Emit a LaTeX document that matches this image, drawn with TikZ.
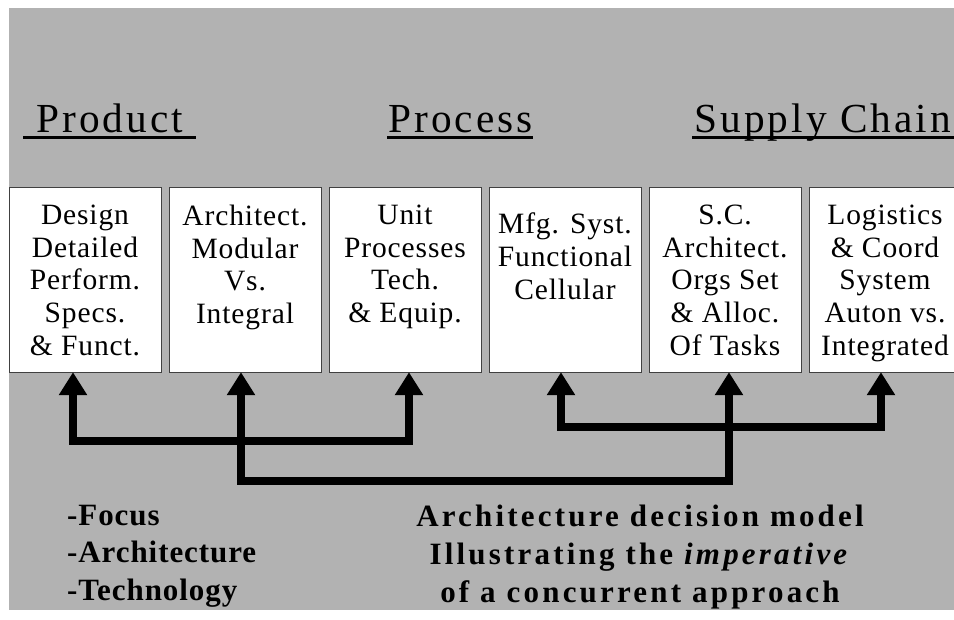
\documentclass[tikz,border=0pt]{standalone}
\usepackage{fontspec}
\usetikzlibrary{positioning,arrows.meta}
\setmainfont{Liberation Serif}
\newfontfamily\headfont[LetterSpace=7.5]{Liberation Serif}
\newfontfamily\cellfont[LetterSpace=3]{Liberation Serif}
\newfontfamily\leftfont[LetterSpace=3]{Liberation Serif}
\newfontfamily\notefont[LetterSpace=10.3]{Liberation Serif}
\definecolor{bggray}{RGB}{178,178,178}

\tikzset{
	cell/.style={draw=black!75, fill=white, minimum width=152pt, minimum height=185pt, inner sep=0pt},
	celltext/.style={font=\cellfont\fontsize{29.5pt}{32.7pt}\selectfont, align=center, inner sep=0pt, execute at begin node=\strut},
	heading/.style={font=\headfont\fontsize{41.3pt}{48pt}\selectfont, inner sep=0pt},
	uline/.style={line width=3pt},
	link/.style={line width=8pt, {Triangle[width=27pt,length=23pt]}-{Triangle[width=27pt,length=23pt]}},
	note/.style={font=\notefont\bfseries\fontsize{31pt}{38pt}\selectfont, inner sep=0pt, execute at begin node=\strut},
	leftnote/.style={note, font=\leftfont\bfseries\fontsize{31pt}{38pt}\selectfont},
}

\begin{document}
\begin{tikzpicture}[x=1pt,y=-1pt]
				\useasboundingbox (0,0) rectangle (954,620);
				\fill[bggray] (9,8) rectangle (970,610);
				% headings
				\node[heading, inner xsep=13pt, anchor=base west] (prod) at (23,133) {Product};
				\node[heading, anchor=base west] (proc) at (388,133) {Process};
				\node[heading, anchor=base west] (supp) at (694,133) {Supply Chain};
				\draw[uline] ([yshift=-4.5pt]prod.base west) -- ([yshift=-4.5pt]prod.base east);
				\draw[uline] ([yshift=-4.5pt,xshift=-1pt]proc.base west) -- ([yshift=-4.5pt]proc.base east);
				\draw[uline] ([yshift=-4.5pt,xshift=-2pt]supp.base west) -- ([yshift=-4.5pt,xshift=20pt]supp.base east);
				% boxes
				\node[cell] (b1) at (85,279.5) {};
				\node[cell] (b2) at (245,279.5) {};
				\node[cell] (b3) at (405,279.5) {};
				\node[cell] (b4) at (565,279.5) {};
				\node[cell] (b5) at (725,279.5) {};
				\node[cell] (b6) at (885,279.5) {};
				\node[celltext, below=18pt of b1.north] (t1) {Design\\Detailed\\Perform.\\Specs.\\\& Funct.};
				\node[celltext, below=18pt of b2.north] (t2) {Architect.\\Modular\\Vs.\\Integral};
				\node[celltext, below=18pt of b3.north] (t3) {Unit\\Processes\\Tech.\\\& Equip.};
				\node[celltext, below=26pt of b4.north] (t4) {Mfg. Syst.\\Functional\\Cellular};
				\node[celltext, below=18pt of b5.north] (t5) {S.C.\\Architect.\\Orgs Set\\\& Alloc.\\Of Tasks};
				\node[celltext, below=18pt of b6.north] (t6) {Logistics\\\& Coord\\System\\Auton vs.\\Integrated};
				% links
				\draw[link] ([xshift=-12pt]b1.south) -- ++(0,69) -| ([xshift=4pt]b3.south);
				\draw[link] ([xshift=-4pt]b4.south) -- ++(0,55) -| ([xshift=-4pt]b6.south);
				\draw[link] ([xshift=-4pt]b2.south) -- ++(0,109) -| ([xshift=4pt]b5.south);
				% notes
				\node[leftnote, align=left, anchor=north west] (focus) at (67,504.5) {-Focus\\-Architecture\\-Technology};
				\node[note, align=center, anchor=north] (model) at (640,504.5) {Architecture decision model\\Illustrating the \textit{imperative}\\of a concurrent approach};
\end{tikzpicture}
\end{document}
